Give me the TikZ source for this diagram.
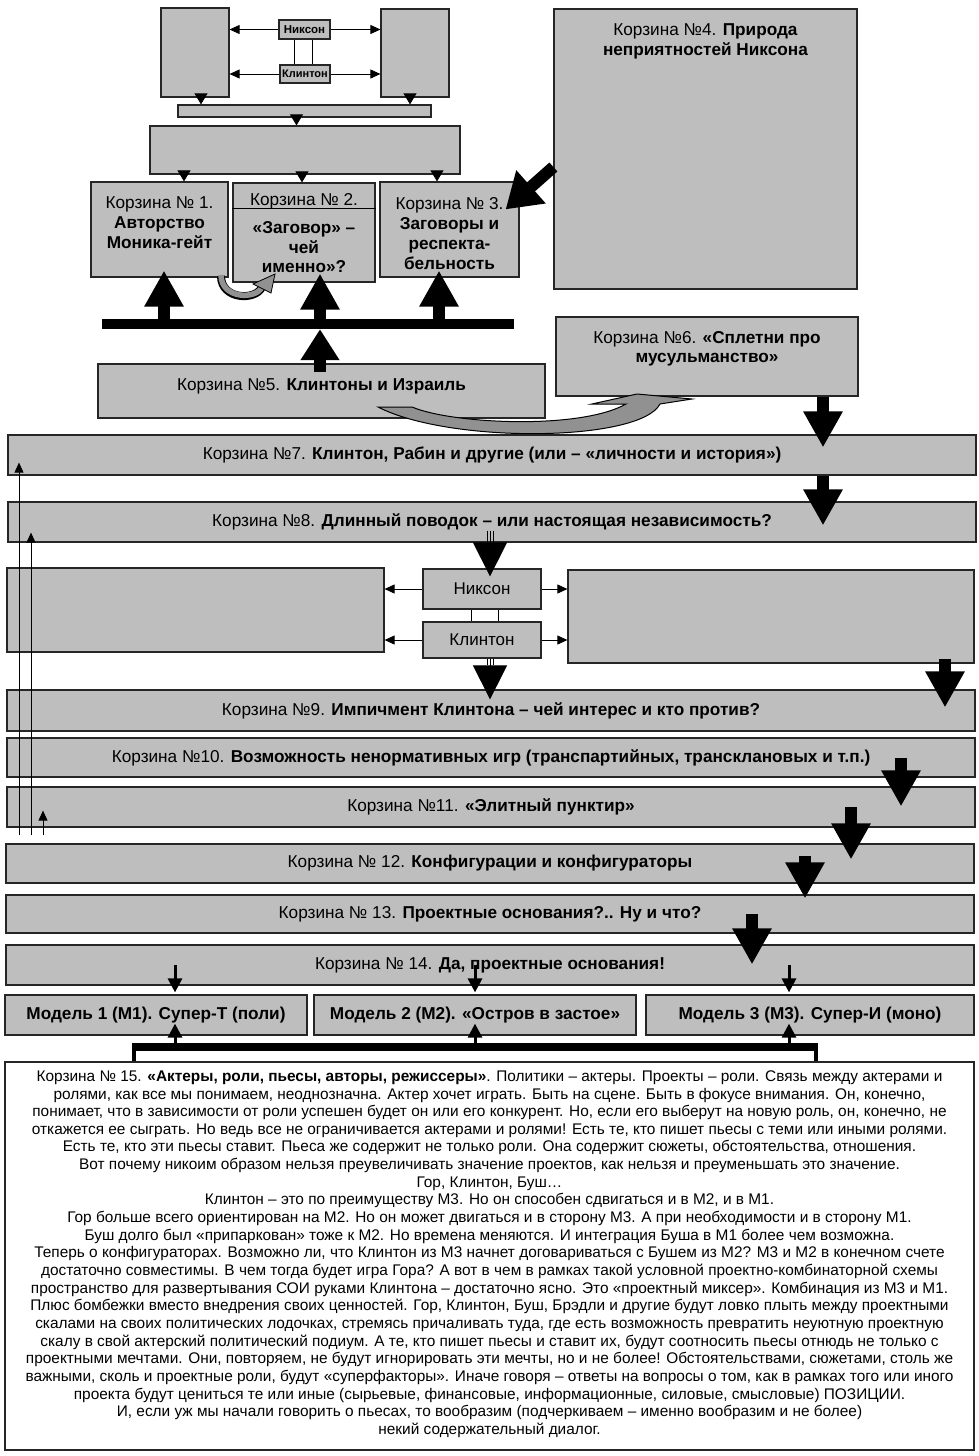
\documentclass[tikz,border=0pt]{standalone}
\usepackage{fontspec}
\setmainfont{Liberation Sans}
\usetikzlibrary{arrows.meta,positioning}

\definecolor{boxgray}{RGB}{190,190,190}
\definecolor{bandgray}{RGB}{145,145,145}

\tikzset{
  basket/.style={draw=black!85, fill=boxgray, line width=1.2pt, inner sep=0pt, align=center,
    font=\fontsize{17.2}{20}\selectfont},
  bartext/.style={inner sep=0pt, align=center, font=\fontsize{17.2}{20}\selectfont},
  blackbar/.style={fill=black, inner sep=0pt},
  bigarrow/.style={line width=12pt, -{Triangle[length=36pt,width=37pt]}},
  midarrow/.style={line width=0.8pt, -{Triangle[length=34pt,width=34pt]}},
  smalltri/.style={line width=0.8pt, -{Triangle[length=11pt,width=13pt]}},
  thinarrow/.style={line width=0.8pt, -{Triangle[length=10pt,width=9pt]}},
  modelarrow/.style={line width=3pt, -{Triangle[length=14pt,width=14pt]}},
}

\begin{document}
\begin{tikzpicture}[x=1pt, y=-1pt]
  \useasboundingbox (0,0) rectangle (978,1456);

  % top group
  \node[basket, minimum width=68pt, minimum height=89pt] (lbox) at (195,52.5) {};
  \node[basket, minimum width=68pt, minimum height=88pt] (rbox) at (415,53) {};
  \node[basket, minimum width=51pt, minimum height=19pt, font=\bfseries\fontsize{11.5}{12}\selectfont] (nix) at (304.5,29.5) {Никсон};
  \node[basket, minimum width=50pt, minimum height=18pt, font=\bfseries\fontsize{11}{12}\selectfont] (cli) at (305,74) {Клинтон};
  \node[basket, minimum width=253pt, minimum height=12pt] (strip) at (304.5,111) {};
  \node[basket, minimum width=310pt, minimum height=48pt] (wide) at (305,150) {};

  \draw[thinarrow] (nix.west) -- (nix.west -| lbox.east);
  \draw[thinarrow] (nix.east) -- (nix.east -| rbox.west);
  \draw[thinarrow] (cli.west) -- (cli.west -| lbox.east);
  \draw[thinarrow] (cli.east) -- (cli.east -| rbox.west);
  \draw[line width=0.8pt] ([xshift=-10pt]nix.south) -- ([xshift=-10pt]nix.south |- cli.north);
  \draw[line width=0.8pt] ([xshift=8pt]nix.south) -- ([xshift=8pt]nix.south |- cli.north);
  \draw[smalltri] ([xshift=6pt]lbox.south) -- ([xshift=6pt]lbox.south |- strip.north);
  \draw[smalltri] ([xshift=-5pt]rbox.south) -- ([xshift=-5pt]rbox.south |- strip.north);
  \draw[smalltri] ([xshift=-8pt]strip.south) -- ([xshift=-8pt]strip.south |- wide.north);

  % baskets 1-6
  \node[basket, minimum width=137pt, minimum height=95pt] (k1) at (159.5,229.5) {};
  \node[basket, minimum width=142pt, minimum height=99pt] (k2) at (304,232.5) {};
  \node[basket, minimum width=139pt, minimum height=95pt] (k3) at (449.5,229.5) {};
  \node[basket, minimum width=303pt, minimum height=280pt] (k4) at (705.5,149) {};
  \node[basket, minimum width=447pt, minimum height=54pt] (k5) at (321.5,391) {};
  \node[basket, minimum width=302pt, minimum height=79pt] (k6) at (707,356.5) {};
  \draw[line width=1.2pt] ([yshift=-26pt]k2.north west) -- ([yshift=-26pt]k2.north east);

  \node[bartext, below=15.5pt of k1.north] (k1t) {Корзина № 1.\\\textbf{Авторство}\\\textbf{Моника-гейт}};
  \node[bartext, below=10.5pt of k2.north] (k2t) {Корзина № 2.};
  \node[bartext, below=39pt of k2.north, font=\bfseries\fontsize{17.2}{19.5}\selectfont] (k2u) {«Заговор» –\\чей\\именно»?};
  \node[bartext, below=15.5pt of k3.north] (k3t) {Корзина № 3.\\\textbf{Заговоры и}\\\textbf{респекта-}\\\textbf{бельность}};
  \node[bartext, below=15pt of k4.north] (k4t) {Корзина №4. \textbf{Природа}\\\textbf{неприятностей Никсона}};
  \node[bartext, below=15pt of k5.north] (k5t) {Корзина №5. \textbf{Клинтоны и Израиль}};
  \node[bartext, below=15pt of k6.north, font=\fontsize{17.2}{19}\selectfont] (k6t) {Корзина №6. \textbf{«Сплетни про}\\\textbf{мусульманство»}};

  \draw[smalltri] ([xshift=24.5pt]k1.north |- wide.south) -- ([xshift=24.5pt]k1.north);
  \draw[smalltri] ([xshift=-2pt]k2.north |- wide.south) -- ([xshift=-2pt]k2.north);
  \draw[smalltri] ([xshift=-12.5pt]k3.north |- wide.south) -- ([xshift=-12.5pt]k3.north);

  \node[blackbar, minimum width=412pt, minimum height=10pt] (bar1) at (308,324) {};
  \draw[bigarrow] ([xshift=4.5pt]k1.south |- bar1.north) -- ([xshift=4.5pt,yshift=7pt]k1.south);
  \draw[bigarrow] ([xshift=16pt]k2.south |- bar1.north) -- ([xshift=16pt,yshift=9pt]k2.south);
  \draw[bigarrow] ([xshift=-10.5pt]k3.south |- bar1.north) -- ([xshift=-10.5pt,yshift=7pt]k3.south);
  \draw[bigarrow, -{Triangle[length=31pt,width=37pt]}] ([xshift=-1.5pt,yshift=-9pt]k5.north) -- ([xshift=-1.5pt]k5.north |- bar1.south);
  \draw[bigarrow, -{Triangle[length=34pt,width=42pt]}] ([yshift=-18pt]k4.west) -- ([xshift=-14pt,yshift=-28pt]k3.north east);

  % curved band arrows
  \draw[line width=8pt] (221,276) .. controls (221,300) and (256,301) .. (262,287);
  \draw[line width=5.5pt, bandgray] (221,275) .. controls (221,299) and (256,300) .. (262,287);
  \draw[fill=bandgray, line width=0.8pt] (253,284) -- (275,274) -- (271,293) -- cycle;
  \draw[fill=bandgray, line width=1pt] (378,407) -- (412,407)
    .. controls (452,424) and (580,430) .. (626,404) -- (592,404) -- (637,394) -- (692,399) -- (660,404)
    .. controls (640,442) and (450,444) .. (378,407) -- cycle;

  % long baskets
  \node[basket, minimum width=968pt, minimum height=40pt] (k7) at (492,455) {Корзина №7. \textbf{Клинтон, Рабин и другие (или – «личности и история»)}};
  \node[basket, minimum width=968pt, minimum height=40pt] (k8) at (492,522) {Корзина №8. \textbf{Длинный поводок – или настоящая независимость?}};
  \draw[bigarrow, shorten >=-13pt] ([xshift=116pt]k6.south) -- ([xshift=116pt]k6.south |- k7.north);
  \draw[bigarrow, shorten >=-24pt] ([xshift=116pt]k6.south |- k7.south) -- ([xshift=116pt]k6.south |- k8.north);

  \node[basket, minimum width=377pt, minimum height=84pt] (lmid) at (195.5,610) {};
  \node[basket, minimum width=406pt, minimum height=93pt] (rmid) at (771,616.5) {};
  \node[basket, minimum width=118pt, minimum height=40pt, font=\fontsize{17}{18}\selectfont] (nix2) at (482,589) {Никсон};
  \node[basket, minimum width=118pt, minimum height=36pt, font=\fontsize{17}{18}\selectfont] (cli2) at (482,640) {Клинтон};
  \draw[thinarrow] (nix2.west) -- (nix2.west -| lmid.east);
  \draw[thinarrow] (nix2.east) -- (nix2.east -| rmid.west);
  \draw[thinarrow] (cli2.west) -- (cli2.west -| lmid.east);
  \draw[thinarrow] (cli2.east) -- (cli2.east -| rmid.west);
  \draw[line width=0.8pt] ([xshift=-11pt]nix2.south) -- ([xshift=-11pt]nix2.south |- cli2.north);
  \draw[line width=0.8pt] ([xshift=16pt]nix2.south) -- ([xshift=16pt]nix2.south |- cli2.north);

  \node[basket, minimum width=968pt, minimum height=41pt] (k9) at (491,710.5) {Корзина №9. \textbf{Импичмент Клинтона – чей интерес и кто против?}};
  \node[basket, minimum width=968pt, minimum height=39pt] (k10) at (491,757.5) {Корзина №10. \textbf{Возможность ненормативных игр (транспартийных, транскла\-новых и т.п.)}};
  \node[basket, minimum width=968pt, minimum height=40pt] (k11) at (491,807) {Корзина №11. \textbf{«Элитный пунктир»}};
  \node[basket, minimum width=968pt, minimum height=39pt] (k12) at (490,863.5) {Корзина № 12. \textbf{Конфигурации и конфигураторы}};
  \node[basket, minimum width=968pt, minimum height=38pt] (k13) at (490,914) {Корзина № 13. \textbf{Проектные основания?.. Ну и что?}};
  \node[basket, minimum width=968pt, minimum height=40pt] (k14) at (490,965) {Корзина № 14. \textbf{Да, проектные основания!}};

  % arrows through the middle part
  \draw[midarrow, shorten >=-8pt] ([xshift=8pt]nix2.north |- k8.south) -- ([xshift=8pt]nix2.north);
  \draw[midarrow, shorten >=-10pt] ([xshift=8pt]cli2.south) -- ([xshift=8pt]cli2.south |- k9.north);
  \foreach \dx in {-3,0,3} {
    \draw[line width=0.7pt] ([xshift=8pt+\dx pt,yshift=12pt]nix2.north |- k8.south) -- ([xshift=8pt+\dx pt]nix2.north |- k8.south);
    \draw[line width=0.7pt] ([xshift=8pt+\dx pt]cli2.south) -- ([xshift=8pt+\dx pt,yshift=-6pt]cli2.south);
  }
  \draw[bigarrow, shorten >=-18pt] ([xshift=174pt,yshift=5pt]rmid.south) -- ([xshift=174pt]rmid.south |- k9.north);
  \draw[bigarrow, shorten >=-20pt] ([xshift=410pt]k10.center) -- ([xshift=410pt]k10.center |- k11.north);
  \draw[bigarrow, shorten >=-16pt] ([xshift=360pt]k11.center) -- ([xshift=360pt]k11.center |- k12.north);
  \draw[bigarrow, shorten >=-12pt] ([xshift=315pt,yshift=8pt]k12.center) -- ([xshift=315pt,yshift=8pt]k12.center |- k13.north);
  \draw[bigarrow, shorten >=-20pt] ([xshift=262pt]k13.center) -- ([xshift=262pt]k13.center |- k14.north);

  % feedback lines on the left
  \coordinate (v1) at (19,835);
  \coordinate (v2) at (31,835);
  \coordinate (v3) at (43,835);
  \draw[thinarrow, shorten >=-13pt] (v1) -- (v1 |- k7.south);
  \draw[thinarrow, shorten >=-10pt] (v2) -- (v2 |- k8.south);
  \draw[thinarrow, shorten >=-17pt] (v3) -- (v3 |- k11.south);

  % models
  \node[basket, minimum width=302pt, minimum height=40pt, font=\bfseries\fontsize{17.2}{19}\selectfont] (m1) at (156,1015) {Модель 1 (М1). Супер-Т (поли)};
  \node[basket, minimum width=322pt, minimum height=40pt, font=\bfseries\fontsize{17.2}{19}\selectfont] (m2) at (475,1015) {Модель 2 (М2). «Остров в застое»};
  \node[basket, minimum width=328pt, minimum height=40pt, font=\bfseries\fontsize{17.2}{19}\selectfont] (m3) at (810,1015) {Модель 3 (М3). Супер-И (моно)};
  \draw[modelarrow, shorten >=2pt] ([xshift=19pt]m1.north |- k14.center) -- ([xshift=19pt]m1.north);
  \draw[modelarrow, shorten >=2pt] (m2.north |- k14.center) -- (m2.north);
  \draw[modelarrow, shorten >=2pt] ([xshift=-21pt]m3.north |- k14.center) -- ([xshift=-21pt]m3.north);

  % basket 15
  \node[draw=black!85, fill=white, line width=1.2pt, minimum width=969pt, minimum height=388pt] (k15) at (489.5,1256) {};
  \node[blackbar, minimum width=686pt, minimum height=8pt] (bar2) at (475,1047) {};
  \draw[line width=4pt] ([xshift=2pt]bar2.south west) -- ([xshift=2pt]bar2.south west |- k15.north);
  \draw[line width=4pt] ([xshift=-2pt]bar2.south east) -- ([xshift=-2pt]bar2.south east |- k15.north);
  \draw[modelarrow] ([xshift=19pt]m1.south |- bar2.north) -- ([xshift=19pt,yshift=12pt]m1.south);
  \draw[modelarrow] (m2.south |- bar2.north) -- ([yshift=12pt]m2.south);
  \draw[modelarrow] ([xshift=-21pt]m3.south |- bar2.north) -- ([xshift=-21pt,yshift=12pt]m3.south);

  \node[anchor=north, inner sep=0pt, align=center, font=\fontsize{15.4}{17.65}\selectfont] (k15t) at ([yshift=-9pt]k15.north) {%
    Корзина № 15. \textbf{«Актеры, роли, пьесы, авторы, режиссеры»}. Политики – актеры. Проекты – роли. Связь между актерами и\\
    ролями, как все мы понимаем, неоднозначна. Актер хочет играть. Быть на сцене. Быть в фокусе внимания. Он, конечно,\\
    понимает, что в зависимости от роли успешен будет он или его конкурент. Но, если его выберут на новую роль, он, конечно, не\\
    откажется ее сыграть. Но ведь все не ограничивается актерами и ролями! Есть те, кто пишет пьесы с теми или иными ролями.\\
    Есть те, кто эти пьесы ставит. Пьеса же содержит не только роли. Она содержит сюжеты, обстоятельства, отношения.\\
    Вот почему никоим образом нельзя преувеличивать значение проектов, как нельзя и преуменьшать это значение.\\
    Гор, Клинтон, Буш…\\
    Клинтон – это по преимуществу М3. Но он способен сдвигаться и в М2, и в М1.\\
    Гор больше всего ориентирован на М2. Но он может двигаться и в сторону М3. А при необходимости и в сторону М1.\\
    Буш долго был «припаркован» тоже к М2. Но времена меняются. И интеграция Буша в М1 более чем возможна.\\
    Теперь о конфигураторах. Возможно ли, что Клинтон из М3 начнет договариваться с Бушем из М2? М3 и М2 в конечном счете\\
    достаточно совместимы. В чем тогда будет игра Гора? А вот в чем в рамках такой условной проектно-комбинаторной схемы\\
    пространство для развертывания СОИ руками Клинтона – достаточно ясно. Это «проектный миксер». Комбинация из М3 и М1.\\
    Плюс бомбежки вместо внедрения своих ценностей. Гор, Клинтон, Буш, Брэдли и другие будут ловко плыть между проектными\\
    скалами на своих политических лодочках, стремясь причаливать туда, где есть возможность превратить неуютную проектную\\
    скалу в свой актерский политический подиум. А те, кто пишет пьесы и ставит их, будут соотносить пьесы отнюдь не только с\\
    проектными мечтами. Они, повторяем, не будут игнорировать эти мечты, но и не более! Обстоятельствами, сюжетами, столь же\\
    важными, сколь и проектные роли, будут «суперфакторы». Иначе говоря – ответы на вопросы о том, как в рамках того или иного\\
    проекта будут цениться те или иные (сырьевые, финансовые, информационные, силовые, смысловые) ПОЗИЦИИ.\\
    И, если уж мы начали говорить о пьесах, то вообразим (подчеркиваем – именно вообразим и не более)\\
    некий содержательный диалог.};
\end{tikzpicture}
\end{document}
